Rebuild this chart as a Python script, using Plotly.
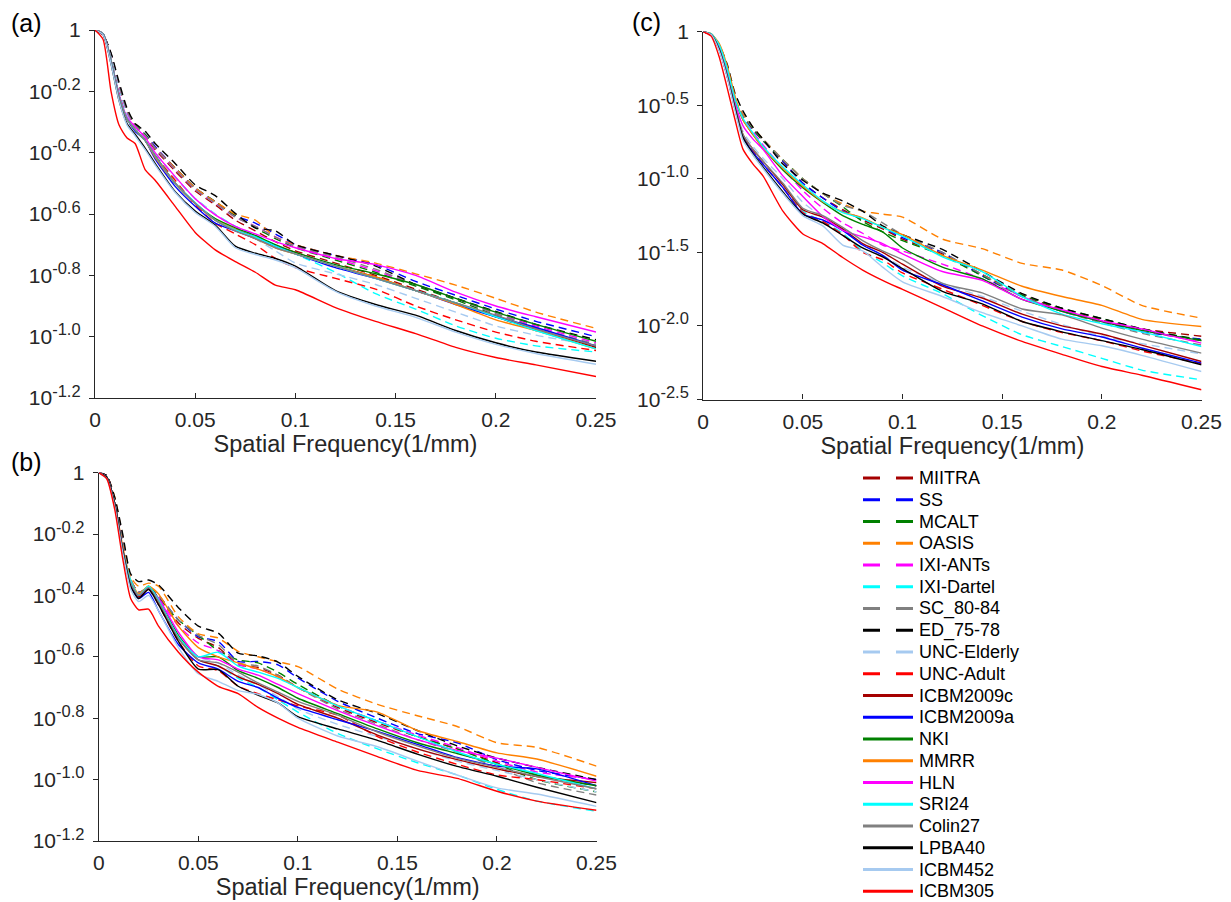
import plotly.graph_objects as go

# ---------------- data (values are log10 of normalised amplitude) ----------------
freq = [0, 0.004, 0.008, 0.012, 0.016, 0.02, 0.025, 0.03, 0.04, 0.05, 0.06, 0.07,
        0.08, 0.09, 0.10, 0.12, 0.14, 0.16, 0.18, 0.20, 0.22, 0.25]

series_names = ["MIITRA", "SS", "MCALT", "OASIS", "IXI-ANTs", "IXI-Dartel", "SC_80-84",
                "ED_75-78", "UNC-Elderly", "UNC-Adult", "ICBM2009c", "ICBM2009a", "NKI",
                "MMRR", "HLN", "SRI24", "Colin27", "LPBA40", "ICBM452", "ICBM305"]
series_colors = ["#A50000", "#0000FF", "#008000", "#FF8000", "#FF00FF", "#00FFFF", "#808080",
                 "#000000", "#A6CAF0", "#FF0000", "#A50000", "#0000FF", "#008000", "#FF8000",
                 "#FF00FF", "#00FFFF", "#808080", "#000000", "#A6CAF0", "#FF0000"]
series_dashed = [True] * 10 + [False] * 10

# panel (a)
a_MIITRA = [0, -.015, -.08, -.185, -.27, -.315, -.35, -.39, -.46, -.525, -.57, -.62, -.655, -.69, -.72, -.76, -.8, -.845, -.89, -.935, -.98, -1.03]
a_SS = [0, -.015, -.08, -.18, -.265, -.31, -.34, -.38, -.45, -.515, -.56, -.605, -.63, -.665, -.70, -.735, -.765, -.82, -.865, -.91, -.95, -1.0]
a_MCALT = [0, -.015, -.08, -.18, -.265, -.31, -.34, -.385, -.45, -.515, -.56, -.605, -.645, -.68, -.71, -.75, -.79, -.835, -.88, -.93, -.975, -1.035]
a_OASIS = [0, -.015, -.08, -.18, -.265, -.31, -.345, -.385, -.45, -.515, -.56, -.6, -.62, -.675, -.70, -.735, -.76, -.795, -.832, -.875, -.92, -.973]
a_IXI_ANTs = [0, -.015, -.08, -.18, -.27, -.315, -.345, -.385, -.455, -.52, -.565, -.61, -.64, -.675, -.705, -.745, -.785, -.83, -.875, -.925, -.965, -1.02]
a_IXI_Dartel = [0, -.015, -.09, -.2, -.28, -.32, -.355, -.4, -.48, -.55, -.6, -.64, -.67, -.7, -.73, -.79, -.86, -.91, -.965, -1.005, -1.03, -1.05]
a_SC = [0, -.015, -.08, -.18, -.265, -.31, -.345, -.385, -.455, -.52, -.565, -.61, -.64, -.675, -.705, -.74, -.78, -.83, -.875, -.925, -.97, -1.025]
a_ED = [0, -.015, -.075, -.17, -.255, -.305, -.33, -.37, -.435, -.505, -.54, -.598, -.645, -.655, -.70, -.735, -.77, -.83, -.875, -.918, -.96, -1.01]
a_UNC_Elderly = [0, -.015, -.09, -.2, -.28, -.32, -.355, -.4, -.48, -.55, -.6, -.645, -.68, -.72, -.76, -.795, -.83, -.875, -.92, -.965, -.995, -1.03]
a_UNC_Adult = [0, -.015, -.1, -.21, -.29, -.325, -.36, -.41, -.49, -.57, -.63, -.665, -.7, -.745, -.775, -.81, -.845, -.9, -.945, -.985, -1.015, -1.045]
a_ICBM2009c = [0, -.012, -.1, -.215, -.29, -.325, -.36, -.41, -.5, -.565, -.62, -.65, -.675, -.705, -.725, -.77, -.805, -.85, -.89, -.935, -.975, -1.035]
a_ICBM2009a = [0, -.012, -.1, -.215, -.29, -.33, -.36, -.42, -.51, -.575, -.63, -.655, -.68, -.705, -.73, -.775, -.81, -.85, -.895, -.935, -.97, -1.03]
a_NKI = [0, -.012, -.1, -.215, -.29, -.325, -.36, -.41, -.5, -.565, -.615, -.645, -.67, -.7, -.725, -.765, -.795, -.83, -.875, -.92, -.96, -1.015]
a_MMRR = [0, -.012, -.1, -.215, -.29, -.325, -.36, -.415, -.5, -.565, -.62, -.65, -.68, -.71, -.73, -.77, -.805, -.85, -.895, -.945, -.98, -1.04]
a_HLN = [0, -.012, -.1, -.21, -.285, -.315, -.35, -.4, -.478, -.55, -.603, -.64, -.665, -.69, -.71, -.745, -.765, -.8, -.855, -.9, -.935, -.985]
a_SRI24 = [0, -.012, -.1, -.215, -.29, -.325, -.36, -.41, -.5, -.563, -.62, -.652, -.675, -.705, -.73, -.77, -.81, -.85, -.89, -.935, -.98, -1.04]
a_Colin27 = [0, -.012, -.1, -.215, -.29, -.325, -.36, -.41, -.5, -.565, -.62, -.655, -.68, -.71, -.73, -.77, -.81, -.85, -.89, -.93, -.975, -1.03]
a_LPBA40 = [0, -.015, -.11, -.23, -.305, -.34, -.385, -.435, -.527, -.59, -.636, -.705, -.728, -.745, -.77, -.85, -.895, -.93, -.98, -1.02, -1.05, -1.08]
a_ICBM452 = [0, -.015, -.11, -.23, -.31, -.345, -.39, -.44, -.53, -.595, -.64, -.71, -.732, -.75, -.775, -.852, -.9, -.937, -.985, -1.025, -1.055, -1.09]
a_ICBM305 = [0, -.03, -.2, -.31, -.352, -.37, -.455, -.49, -.575, -.66, -.717, -.755, -.79, -.832, -.847, -.905, -.95, -.99, -1.035, -1.068, -1.092, -1.13]

# panel (b)
b_MIITRA = [0, -.01, -.09, -.22, -.35, -.39, -.38, -.405, -.49, -.54, -.57, -.625, -.635, -.66, -.7, -.765, -.815, -.86, -.9, -.945, -.985, -1.02]
b_SS = [0, -.01, -.09, -.22, -.35, -.39, -.375, -.4, -.48, -.535, -.55, -.615, -.615, -.626, -.669, -.745, -.8, -.85, -.88, -.935, -.97, -1.0]
b_MCALT = [0, -.01, -.09, -.22, -.35, -.39, -.38, -.41, -.48, -.53, -.58, -.61, -.62, -.65, -.69, -.76, -.81, -.86, -.9, -.95, -1.0, -1.04]
b_OASIS = [0, -.01, -.08, -.21, -.34, -.37, -.36, -.37, -.47, -.525, -.539, -.582, -.6, -.616, -.632, -.705, -.755, -.792, -.827, -.88, -.895, -.956]
b_IXI_ANTs = [0, -.01, -.09, -.22, -.35, -.39, -.38, -.41, -.5, -.555, -.58, -.625, -.64, -.665, -.7, -.76, -.81, -.855, -.895, -.94, -.975, -1.0]
b_IXI_Dartel = [0, -.015, -.1, -.25, -.36, -.4, -.38, -.43, -.54, -.61, -.63, -.67, -.7, -.74, -.78, -.85, -.9, -.945, -.985, -1.032, -1.07, -1.103]
b_SC = [0, -.01, -.09, -.22, -.35, -.39, -.375, -.4, -.48, -.53, -.56, -.62, -.63, -.66, -.7, -.77, -.82, -.87, -.91, -.96, -1.01, -1.05]
b_ED = [0, -.01, -.08, -.2, -.33, -.355, -.35, -.366, -.44, -.5, -.523, -.588, -.597, -.617, -.664, -.74, -.785, -.84, -.89, -.93, -.96, -1.0]
b_UNC_Elderly = [0, -.015, -.1, -.25, -.36, -.4, -.38, -.43, -.54, -.6, -.62, -.66, -.69, -.73, -.77, -.82, -.86, -.9, -.94, -.97, -1.0, -1.04]
b_UNC_Adult = [0, -.015, -.1, -.25, -.36, -.4, -.38, -.43, -.55, -.63, -.645, -.696, -.72, -.74, -.76, -.79, -.86, -.91, -.95, -.985, -1.0, -1.03]
b_ICBM2009c = [0, -.015, -.1, -.25, -.36, -.405, -.38, -.42, -.54, -.61, -.63, -.665, -.69, -.72, -.755, -.8, -.855, -.9, -.935, -.965, -.99, -1.01]
b_ICBM2009a = [0, -.015, -.1, -.25, -.37, -.41, -.39, -.45, -.56, -.62, -.64, -.68, -.7, -.735, -.765, -.805, -.843, -.885, -.928, -.956, -.965, -1.02]
b_NKI = [0, -.015, -.1, -.25, -.36, -.4, -.37, -.41, -.53, -.6, -.6, -.645, -.67, -.7, -.735, -.785, -.835, -.88, -.915, -.95, -.985, -1.02]
b_MMRR = [0, -.015, -.1, -.24, -.35, -.395, -.37, -.395, -.5, -.57, -.6, -.62, -.64, -.665, -.7, -.758, -.78, -.84, -.876, -.913, -.933, -.989]
b_HLN = [0, -.015, -.1, -.25, -.36, -.4, -.375, -.41, -.52, -.6, -.61, -.64, -.66, -.69, -.72, -.775, -.825, -.87, -.905, -.93, -.96, -1.005]
b_SRI24 = [0, -.015, -.1, -.25, -.35, -.4, -.37, -.415, -.535, -.6, -.585, -.63, -.65, -.67, -.7, -.76, -.81, -.86, -.91, -.95, -.98, -1.03]
b_Colin27 = [0, -.015, -.1, -.25, -.36, -.4, -.375, -.42, -.54, -.61, -.62, -.65, -.685, -.715, -.745, -.79, -.845, -.89, -.93, -.96, -.99, -1.03]
b_LPBA40 = [0, -.015, -.1, -.25, -.37, -.41, -.38, -.43, -.55, -.64, -.642, -.696, -.725, -.75, -.795, -.835, -.872, -.917, -.957, -.989, -1.025, -1.075]
b_ICBM452 = [0, -.02, -.11, -.26, -.38, -.42, -.4, -.45, -.57, -.655, -.68, -.71, -.722, -.75, -.8, -.858, -.893, -.94, -.985, -1.027, -1.047, -1.087]
b_ICBM305 = [0, -.02, -.12, -.28, -.41, -.447, -.445, -.5, -.585, -.65, -.696, -.72, -.765, -.8, -.83, -.878, -.925, -.97, -.996, -1.038, -1.07, -1.1]

# panel (c)
c_MIITRA = [0, -.02, -.1, -.27, -.48, -.58, -.665, -.74, -.88, -1.03, -1.13, -1.21, -1.28, -1.34, -1.41, -1.51, -1.65, -1.79, -1.89, -1.96, -2.02, -2.07]
c_SS = [0, -.02, -.1, -.27, -.48, -.58, -.665, -.74, -.88, -1.03, -1.13, -1.22, -1.27, -1.33, -1.4, -1.5, -1.66, -1.8, -1.9, -1.97, -2.04, -2.09]
c_MCALT = [0, -.02, -.1, -.27, -.48, -.58, -.665, -.74, -.87, -1.0, -1.1, -1.19, -1.29, -1.36, -1.42, -1.52, -1.66, -1.79, -1.88, -1.95, -2.02, -2.095]
c_OASIS = [0, -.02, -.1, -.26, -.46, -.56, -.65, -.73, -.87, -1.0, -1.1, -1.17, -1.22, -1.24, -1.26, -1.41, -1.475, -1.575, -1.62, -1.725, -1.86, -1.947]
c_IXI_ANTs = [0, -.02, -.1, -.27, -.48, -.59, -.68, -.77, -.93, -1.08, -1.2, -1.3, -1.37, -1.45, -1.49, -1.58, -1.68, -1.8, -1.9, -1.97, -2.03, -2.11]
c_IXI_Dartel = [0, -.02, -.12, -.3, -.53, -.71, -.81, -.9, -1.06, -1.22, -1.29, -1.37, -1.49, -1.57, -1.66, -1.78, -1.93, -2.06, -2.14, -2.22, -2.3, -2.366]
c_SC = [0, -.02, -.1, -.27, -.47, -.57, -.655, -.73, -.87, -1.0, -1.1, -1.18, -1.22, -1.3, -1.38, -1.5, -1.65, -1.8, -1.9, -1.98, -2.05, -2.13]
c_ED = [0, -.02, -.09, -.22, -.42, -.54, -.65, -.73, -.9, -1.01, -1.097, -1.15, -1.22, -1.32, -1.38, -1.48, -1.63, -1.78, -1.88, -1.95, -2.02, -2.1]
c_UNC_Elderly = [0, -.02, -.11, -.29, -.5, -.68, -.78, -.86, -1.0, -1.16, -1.26, -1.35, -1.45, -1.52, -1.6, -1.71, -1.8, -1.9, -1.99, -2.07, -2.12, -2.19]
c_UNC_Adult = [0, -.02, -.12, -.3, -.53, -.71, -.81, -.9, -1.06, -1.23, -1.29, -1.38, -1.5, -1.55, -1.64, -1.75, -1.86, -1.97, -2.045, -2.1, -2.17, -2.255]
c_ICBM2009c = [0, -.02, -.12, -.29, -.51, -.7, -.8, -.88, -1.04, -1.21, -1.26, -1.34, -1.44, -1.5, -1.58, -1.73, -1.81, -1.92, -2.0, -2.055, -2.13, -2.242]
c_ICBM2009a = [0, -.02, -.12, -.3, -.52, -.72, -.82, -.9, -1.06, -1.24, -1.28, -1.35, -1.45, -1.52, -1.62, -1.72, -1.83, -1.94, -2.02, -2.075, -2.15, -2.253]
c_NKI = [0, -.015, -.09, -.25, -.46, -.6, -.7, -.79, -.94, -1.06, -1.16, -1.25, -1.31, -1.36, -1.47, -1.6, -1.68, -1.82, -1.9, -1.97, -2.03, -2.1]
c_MMRR = [0, -.015, -.08, -.23, -.44, -.6, -.7, -.79, -.93, -1.05, -1.155, -1.225, -1.265, -1.33, -1.38, -1.52, -1.62, -1.73, -1.8, -1.86, -1.955, -2.004]
c_HLN = [0, -.02, -.11, -.28, -.49, -.64, -.73, -.8, -.98, -1.12, -1.255, -1.35, -1.395, -1.44, -1.51, -1.63, -1.69, -1.82, -1.89, -1.965, -2.02, -2.117]
c_SRI24 = [0, -.015, -.09, -.25, -.46, -.59, -.69, -.78, -.92, -1.04, -1.15, -1.23, -1.27, -1.33, -1.39, -1.53, -1.63, -1.8, -1.92, -1.985, -2.04, -2.14]
c_Colin27 = [0, -.02, -.12, -.29, -.51, -.7, -.8, -.88, -1.03, -1.2, -1.25, -1.33, -1.42, -1.49, -1.55, -1.71, -1.775, -1.885, -1.925, -2.015, -2.09, -2.185]
c_LPBA40 = [0, -.02, -.12, -.3, -.52, -.72, -.83, -.92, -1.09, -1.24, -1.3, -1.385, -1.47, -1.53, -1.61, -1.765, -1.85, -1.97, -2.04, -2.1, -2.16, -2.264]
c_ICBM452 = [0, -.02, -.13, -.31, -.54, -.74, -.84, -.93, -1.1, -1.25, -1.32, -1.45, -1.49, -1.6, -1.7, -1.8, -1.91, -2.0, -2.09, -2.135, -2.2, -2.31]
c_ICBM305 = [0, -.03, -.17, -.38, -.6, -.8, -.9, -.98, -1.22, -1.375, -1.44, -1.535, -1.62, -1.69, -1.752, -1.875, -2.0, -2.105, -2.193, -2.276, -2.335, -2.434]

x_tick_vals = [0, 0.05, 0.1, 0.15, 0.2, 0.25]
x_tick_text = ["0", "0.05", "0.1", "0.15", "0.2", "0.25"]
SUP = "10<sup><span style='font-size:16.5px'>%s</span></sup>"
ab_exponents = [0, -0.2, -0.4, -0.6, -0.8, -1.0, -1.2]
ab_tick_text = ["1"] + [SUP % s for s in ["-0.2", "-0.4", "-0.6", "-0.8", "-1.0", "-1.2"]]
c_exponents = [0, -0.5, -1.0, -1.5, -2.0, -2.5]
c_tick_text = ["1"] + [SUP % s for s in ["-0.5", "-1.0", "-1.5", "-2.0", "-2.5"]]

panel_a = [a_MIITRA, a_SS, a_MCALT, a_OASIS, a_IXI_ANTs, a_IXI_Dartel, a_SC, a_ED, a_UNC_Elderly, a_UNC_Adult,
           a_ICBM2009c, a_ICBM2009a, a_NKI, a_MMRR, a_HLN, a_SRI24, a_Colin27, a_LPBA40, a_ICBM452, a_ICBM305]
panel_b = [b_MIITRA, b_SS, b_MCALT, b_OASIS, b_IXI_ANTs, b_IXI_Dartel, b_SC, b_ED, b_UNC_Elderly, b_UNC_Adult,
           b_ICBM2009c, b_ICBM2009a, b_NKI, b_MMRR, b_HLN, b_SRI24, b_Colin27, b_LPBA40, b_ICBM452, b_ICBM305]
panel_c = [c_MIITRA, c_SS, c_MCALT, c_OASIS, c_IXI_ANTs, c_IXI_Dartel, c_SC, c_ED, c_UNC_Elderly, c_UNC_Adult,
           c_ICBM2009c, c_ICBM2009a, c_NKI, c_MMRR, c_HLN, c_SRI24, c_Colin27, c_LPBA40, c_ICBM452, c_ICBM305]

# ---------------- figure ----------------
W, H = 1231, 902
FONT = "Liberation Sans, Arial, Helvetica, sans-serif"
INK = "#262626"

fig = go.Figure()

for xa, ya, data in [("x", "y", panel_a), ("x2", "y2", panel_b), ("x3", "y3", panel_c)]:
    for name, col, dsh, logv in zip(series_names, series_colors, series_dashed, data):
        fig.add_trace(go.Scatter(
            x=freq, y=[10 ** v for v in logv], mode="lines", name=name,
            xaxis=xa, yaxis=ya, showlegend=False,
            line=dict(color=col, width=1.4, dash="8px,5px" if dsh else "solid",
                      shape="spline", smoothing=0.6)))

# legend drawn in its own hidden axis (pixel-like coordinates)
leg_top, leg_step = 478, 21.75
leg_annotations = []
for i, (name, col, dsh) in enumerate(zip(series_names, series_colors, series_dashed)):
    yy = leg_top + i * leg_step
    if dsh:
        xs, ys = [863, 880, None, 896, 913], [yy, yy, None, yy, yy]
    else:
        xs, ys = [863, 913], [yy, yy]
    fig.add_trace(go.Scatter(x=xs, y=ys, mode="lines", xaxis="x4", yaxis="y4",
                             showlegend=False, hoverinfo="skip",
                             line=dict(color=col, width=3)))
    leg_annotations.append(dict(x=917, y=yy, xref="x4", yref="y4", text=name,
                                showarrow=False, xanchor="left", yanchor="middle",
                                font=dict(size=18, color="#000000", family=FONT)))


def xaxis_style(d0, d1, anchor):
    return dict(domain=[d0 / W, d1 / W], anchor=anchor, range=[0, 0.25], automargin=False,
                tickvals=x_tick_vals, ticktext=x_tick_text, ticks="inside", ticklen=5,
                tickwidth=1.2, tickcolor=INK, showline=True, linecolor=INK, linewidth=1.3,
                showgrid=False, zeroline=False, ticklabelstandoff=3,
                tickfont=dict(size=21, color=INK, family=FONT),
                title=dict(text="Spatial Frequency(1/mm)", font=dict(size=23.5, color=INK, family=FONT),
                           standoff=5))


def yaxis_style(top, bottom, anchor, lo, exps, texts):
    return dict(domain=[1 - bottom / H, 1 - top / H], anchor=anchor, type="log", range=[lo, 0],
                automargin=False, ticklabelstandoff=4,
                tickvals=[10 ** e for e in exps], ticktext=texts, ticks="outside", ticklen=5,
                tickwidth=1.2, tickcolor=INK, showline=True, linecolor=INK, linewidth=1.3,
                showgrid=False, zeroline=False, tickfont=dict(size=21, color=INK, family=FONT))


panel_labels = [dict(x=9 / W, y=1 - 23 / H, text="(a)"), dict(x=9 / W, y=1 - 462 / H, text="(b)"),
                dict(x=630 / W, y=1 - 22 / H, text="(c)")]
label_annotations = [dict(xref="paper", yref="paper", showarrow=False, xanchor="left", yanchor="middle",
                          font=dict(size=25, color="#000000", family=FONT), **p) for p in panel_labels]

fig.update_layout(
    width=W, height=H, autosize=False, margin=dict(l=0, r=0, t=0, b=0, pad=0),
    paper_bgcolor="white", plot_bgcolor="white", showlegend=False,
    font=dict(family=FONT, color=INK),
    xaxis=xaxis_style(95, 596, "y"),
    yaxis=yaxis_style(30, 398, "x", -1.2, ab_exponents, ab_tick_text),
    xaxis2=xaxis_style(98.8, 596.5, "y2"),
    yaxis2=yaxis_style(472.6, 841, "x2", -1.2, ab_exponents, ab_tick_text),
    xaxis3=xaxis_style(703.2, 1201.5, "y3"),
    yaxis3=yaxis_style(31.7, 399.5, "x3", -2.5, c_exponents, c_tick_text),
    xaxis4=dict(domain=[840 / W, 1], anchor="y4", range=[840, 1231], visible=False,
                fixedrange=True, automargin=False),
    yaxis4=dict(domain=[0, 1 - 455 / H], anchor="x4", range=[902, 455], visible=False,
                fixedrange=True, automargin=False),
    annotations=leg_annotations + label_annotations,
)

fig.write_html("out.html")
